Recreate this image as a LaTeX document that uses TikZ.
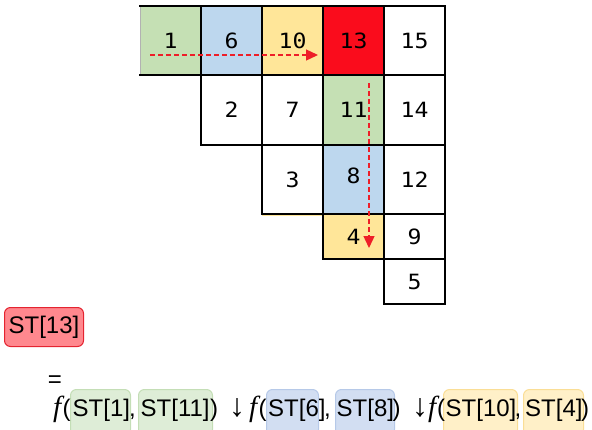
\documentclass[tikz,border=0pt]{standalone}
\usepackage{fontspec}
\setmainfont{Liberation Sans}
\newfontfamily\numfont[FakeStretch=1.1]{DejaVu Sans Mono}
\newfontfamily\ffont{Liberation Serif}
\usetikzlibrary{arrows.meta}
\definecolor{cgreen}{RGB}{197,224,180}
\definecolor{cblue}{RGB}{189,215,238}
\definecolor{cyellow}{RGB}{255,230,153}
\definecolor{cred}{RGB}{250,12,28}
\definecolor{arred}{RGB}{238,30,40}
\definecolor{bgreenf}{RGB}{222,237,215}
\definecolor{bgreend}{RGB}{196,222,182}
\definecolor{bbluef}{RGB}{210,222,242}
\definecolor{bblued}{RGB}{182,201,232}
\definecolor{byellowf}{RGB}{255,240,200}
\definecolor{byellowd}{RGB}{250,222,150}
\definecolor{bredf}{RGB}{255,136,142}
\definecolor{bredd}{RGB}{228,36,48}
\tikzset{
  num/.style={font=\numfont\fontsize{21}{24}\selectfont, inner sep=0pt},
  gridline/.style={line width=1.7pt, black, line cap=rect},
  redarrow/.style={draw=arred, line width=1.4pt, dash pattern=on 5pt off 3pt,
    -{Triangle[length=12pt,width=11pt]}},
  bigtxt/.style={font=\fontsize{24}{28}\selectfont, inner sep=0pt, anchor=base west},
  arrtxt/.style={font=\fontsize{32}{34}\selectfont, inner sep=0pt, anchor=base west},
  ftxt/.style={font=\ffont\itshape\fontsize{29}{32}\selectfont, inner sep=0pt, anchor=base west},
  hbox/.style={rounded corners=6pt, line width=1pt, inner sep=0pt, anchor=north west},
}
\begin{document}
\begin{tikzpicture}[x=1pt,y=-1pt]
\clip (0,0) rectangle (592,429);
\useasboundingbox (0,0) rectangle (592,429);
% cell fills
\fill[cgreen] (140,6) rectangle (201,75);
\fill[cblue] (201,6) rectangle (262,75);
\fill[cyellow] (262,6) rectangle (323,75);
\fill[cred] (323,6) rectangle (384,75);
\fill[cgreen] (323,75) rectangle (384,145);
\fill[cblue] (323,145) rectangle (384,214);
\fill[cyellow] (323,214) rectangle (384,259);
\draw[cyellow, line width=1.2pt] (262,215.8) -- (323,215.8);
% grid lines
\draw[gray!60, line width=0.8pt] (140,6) -- (140,75);
\draw[gridline] (140,6) -- (445,6);
\draw[gridline] (140,75) -- (445,75);
\draw[gridline] (201,145) -- (445,145);
\draw[gridline] (262,214) -- (445,214);
\draw[gridline] (323,259) -- (445,259);
\draw[gridline] (384,304) -- (445,304);
\draw[gridline] (201,6) -- (201,145);
\draw[gridline] (262,6) -- (262,214);
\draw[gridline] (323,6) -- (323,259);
\draw[gridline] (384,6) -- (384,304);
\draw[gridline] (445,6) -- (445,304);
% numbers
\node[num] (c1) at (170.5,40.5) {1};
\node[num] (c6) at (231.5,40.5) {6};
\node[num] (c10) at (292.5,40.5) {10};
\node[num] (c13) at (353.5,40.5) {13};
\node[num] (c15) at (414.5,40.5) {15};
\node[num] (c2) at (231.5,110) {2};
\node[num] (c7) at (292.5,110) {7};
\node[num] (c11) at (353.5,110) {11};
\node[num] (c14) at (414.5,110) {14};
\node[num] (c3) at (292.5,179.5) {3};
\node[num] (c8) at (353.5,176) {8};
\node[num] (c12) at (414.5,179.5) {12};
\node[num] (c4) at (353.5,236.5) {4};
\node[num] (c9) at (414.5,236.5) {9};
\node[num] (c5) at (414.5,281.5) {5};
% arrows
\coordinate (h1) at (150,55);
\coordinate (h2) at (318,55);
\coordinate (v1) at (369,83);
\coordinate (v2) at (369,248);
\draw[redarrow] (h1) -- (h2);
\draw[redarrow] (v1) -- (v2);
% ST[13]
\node[hbox, draw=bredd, fill=bredf, minimum width=79pt, minimum height=39pt,
  font=\fontsize{24}{28}\selectfont] (st13) at (4,307) {ST[13]};
\node[font=\fontsize{24}{28}\selectfont, inner sep=0pt] (eq) at (55,382) {=};
% highlight boxes
\node[hbox, draw=bgreend, fill=bgreenf, minimum width=60pt, minimum height=46pt] (g1) at (70,389) {};
\node[hbox, draw=bgreend, fill=bgreenf, minimum width=74pt, minimum height=46pt] (g2) at (138,389) {};
\node[hbox, draw=bblued, fill=bbluef, minimum width=52pt, minimum height=46pt] (b1) at (266,389) {};
\node[hbox, draw=bblued, fill=bbluef, minimum width=59pt, minimum height=46pt] (b2) at (335,389) {};
\node[hbox, draw=byellowd, fill=byellowf, minimum width=74pt, minimum height=46pt] (y1) at (443,389) {};
\node[hbox, draw=byellowd, fill=byellowf, minimum width=60pt, minimum height=46pt] (y2) at (523,389) {};
% formula text
\node[ftxt] (f1) at (53,416) {f};
\node[bigtxt] (p1) at (62.5,416) {(};
\node[bigtxt] (t1) at (72.5,416) {ST[1]};
\node[bigtxt] (k1) at (129,416) {,};
\node[bigtxt] (t2) at (140.5,416) {ST[11]};
\node[bigtxt] (q1) at (210,416) {)};
\node[arrtxt] (a1) at (229,416) {↓};
\node[ftxt] (f2) at (249,416) {f};
\node[bigtxt] (p2) at (258.5,416) {(};
\node[bigtxt] (t3) at (268,416) {ST[6]};
\node[bigtxt] (k2) at (324,416) {,};
\node[bigtxt] (t4) at (336.5,416) {ST[8]};
\node[bigtxt] (q2) at (392.5,416) {)};
\node[arrtxt] (a2) at (412,416) {↓};
\node[ftxt] (f3) at (428,416) {f};
\node[bigtxt] (p3) at (437,416) {(};
\node[bigtxt] (t5) at (445.5,416) {ST[10]};
\node[bigtxt] (k3) at (514.5,416) {,};
\node[bigtxt] (t6) at (525,416) {ST[4]};
\node[bigtxt] (q3) at (581,416) {)};
\end{tikzpicture}
\end{document}
